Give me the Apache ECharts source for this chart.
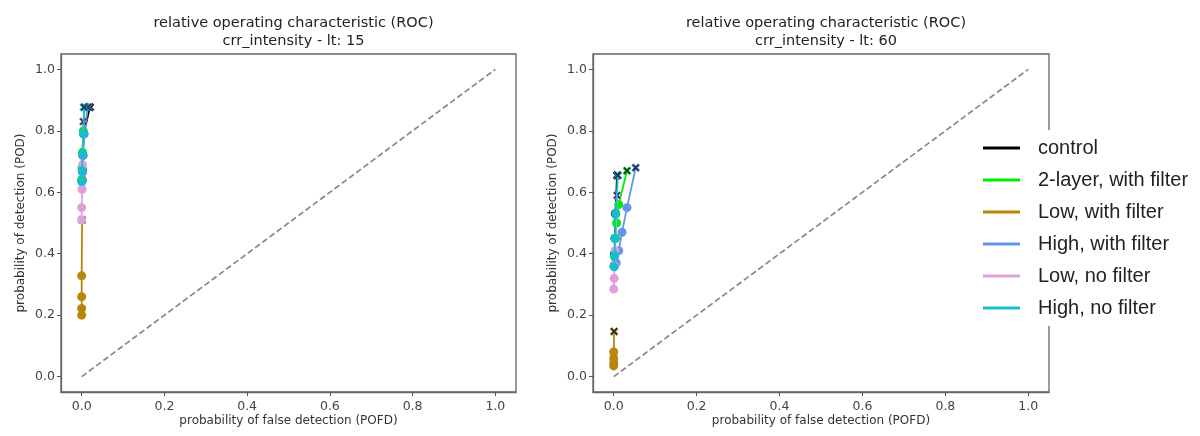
<!DOCTYPE html>
<html>
<head>
<meta charset="utf-8">
<script src="https://cdn.jsdelivr.net/npm/echarts@6/dist/echarts.min.js"></script>
<style>
html,body{margin:0;padding:0;background:#fff;}
#chart{width:1200px;height:436px;}
</style>
</head>
<body>
<div id="chart"></div>
<script>
// ---- data ----
const seriesNames = ["control", "2-layer, with filter", "Low, with filter", "High, with filter", "Low, no filter", "High, no filter"];
const seriesColors = ["#000000", "#00ee00", "#b8860b", "#6495ed", "#dda0dd", "#17becf"];
const panelTitles = ["relative operating characteristic (ROC)\ncrr_intensity - lt: 15", "relative operating characteristic (ROC)\ncrr_intensity - lt: 60"];
const axisTicks = [0.0, 0.2, 0.4, 0.6, 0.8, 1.0];
const diagonal = [[0, 0], [1, 1]];

// lead time 15
const lt15_control_pofd = [0.001, 0.002, 0.003, 0.005, 0.020];
const lt15_control_pod  = [0.640, 0.670, 0.720, 0.790, 0.877];
const lt15_twolayer_pofd = [0.000, 0.001, 0.002, 0.004, 0.006];
const lt15_twolayer_pod  = [0.640, 0.680, 0.730, 0.800, 0.877];
const lt15_lowfilt_pofd = [0.000, 0.000, 0.000, 0.000, 0.001];
const lt15_lowfilt_pod  = [0.200, 0.222, 0.260, 0.328, 0.510];
const lt15_highfilt_pofd = [0.001, 0.002, 0.003, 0.006, 0.015];
const lt15_highfilt_pod  = [0.635, 0.665, 0.720, 0.790, 0.877];
const lt15_lownof_pofd = [0.000, 0.000, 0.001, 0.002, 0.004];
const lt15_lownof_pod  = [0.510, 0.550, 0.610, 0.690, 0.830];
const lt15_highnof_pofd = [0.000, 0.001, 0.002, 0.004, 0.006];
const lt15_highnof_pod  = [0.635, 0.670, 0.725, 0.790, 0.877];

// lead time 60
const lt60_control_pofd = [0.001, 0.002, 0.003, 0.004, 0.008];
const lt60_control_pod  = [0.360, 0.400, 0.450, 0.530, 0.655];
const lt60_twolayer_pofd = [0.002, 0.004, 0.007, 0.012, 0.032];
const lt60_twolayer_pod  = [0.390, 0.450, 0.500, 0.560, 0.670];
const lt60_lowfilt_pofd = [0.000, 0.000, 0.000, 0.000, 0.001];
const lt60_lowfilt_pod  = [0.035, 0.045, 0.060, 0.080, 0.147];
const lt60_highfilt_pofd = [0.006, 0.012, 0.020, 0.032, 0.053];
const lt60_highfilt_pod  = [0.370, 0.410, 0.470, 0.550, 0.680];
const lt60_lownof_pofd = [0.000, 0.001, 0.002, 0.003, 0.008];
const lt60_lownof_pod  = [0.285, 0.320, 0.360, 0.410, 0.590];
const lt60_highnof_pofd = [0.001, 0.002, 0.003, 0.005, 0.010];
const lt60_highnof_pod  = [0.357, 0.395, 0.450, 0.530, 0.655];

const panels = [
  [[lt15_control_pofd, lt15_control_pod], [lt15_twolayer_pofd, lt15_twolayer_pod], [lt15_lowfilt_pofd, lt15_lowfilt_pod],
   [lt15_highfilt_pofd, lt15_highfilt_pod], [lt15_lownof_pofd, lt15_lownof_pod], [lt15_highnof_pofd, lt15_highnof_pod]],
  [[lt60_control_pofd, lt60_control_pod], [lt60_twolayer_pofd, lt60_twolayer_pod], [lt60_lowfilt_pofd, lt60_lowfilt_pod],
   [lt60_highfilt_pofd, lt60_highfilt_pod], [lt60_lownof_pofd, lt60_lownof_pod], [lt60_highnof_pofd, lt60_highnof_pod]]
];

// ---- chart ----
const X_PATH = 'path://M2,0L5,3L8,0L10,2L7,5L10,8L8,10L5,7L2,10L0,8L3,5L0,2Z';
const FONT = 'DejaVu Sans';
const grids = [
  {left: 61, top: 54, width: 455, height: 338},
  {left: 593, top: 54, width: 456, height: 338}
];

function mkAxis(idx, isX) {
  return {
    type: 'value', gridIndex: idx, min: -0.05, max: 1.05,
    name: isX ? 'probability of false detection (POFD)' : 'probability of detection (POD)',
    nameLocation: 'middle', nameGap: isX ? 23 : 34, nameMoveOverlap: false,
    nameTextStyle: {fontFamily: FONT, fontSize: 12, color: '#333'},
    splitLine: {show: false},
    axisLine: {show: true, onZero: false, lineStyle: {color: '#666', width: 1.3}},
    axisTick: {show: true, inside: false, length: 4, customValues: axisTicks, lineStyle: {color: '#555'}},
    axisLabel: {customValues: axisTicks, fontFamily: FONT, fontSize: 12.5, color: '#444', margin: isX ? 8 : 6,
      formatter: v => v.toFixed(1)}
  };
}

const series = [];
panels.forEach((panel, p) => {
  series.push({
    type: 'line', xAxisIndex: p, yAxisIndex: p, data: diagonal, symbol: 'none', silent: true,
    lineStyle: {color: '#888', width: 1.7, type: [6, 3]}, z: 1
  });
  panel.forEach((pair, s) => {
    const [pofd, pod] = pair;
    const data = pofd.map((x, i) => {
      if (i === pofd.length - 1) {
        return {value: [x, pod[i]], symbol: X_PATH, symbolSize: 8,
          itemStyle: {color: '#1e2d4d', borderColor: seriesColors[s], borderWidth: 0.8}};
      }
      return [x, pod[i]];
    });
    series.push({
      type: 'line', name: seriesNames[s], xAxisIndex: p, yAxisIndex: p, data: data,
      symbol: 'circle', symbolSize: 9, showAllSymbol: true,
      lineStyle: {color: seriesColors[s], width: 1.8},
      itemStyle: {color: seriesColors[s], borderWidth: 0},
      emphasis: {disabled: true}, z: 2 + s, animation: false
    });
  });
});

const chart = echarts.init(document.getElementById('chart'), null, {renderer: 'canvas'});
chart.setOption({
  animation: false,
  backgroundColor: '#fff',
  title: panelTitles.map((t, i) => ({
    text: t, left: grids[i].left + grids[i].width / 2, top: 9, textAlign: 'center',
    textStyle: {fontFamily: FONT, fontSize: 14.5, fontWeight: 'normal', color: '#222', lineHeight: 18}
  })),
  grid: grids.map(g => Object.assign({show: true, borderColor: '#666', borderWidth: 1.3, backgroundColor: 'transparent'}, g)),
  xAxis: [mkAxis(0, true), mkAxis(1, true)],
  yAxis: [mkAxis(0, false), mkAxis(1, false)],
  legend: {
    data: seriesNames, orient: 'vertical', left: 975, top: 130,
    backgroundColor: '#fff', padding: [6, 8, 6, 8], itemGap: 8,
    icon: 'rect', itemWidth: 37, itemHeight: 3,
    textStyle: {fontFamily: 'Liberation Sans', fontSize: 20, color: '#222', lineHeight: 24, padding: [0, 0, 0, 13]},
    selectedMode: false, z: 10
  },
  series: series
});
</script>
</body>
</html>
